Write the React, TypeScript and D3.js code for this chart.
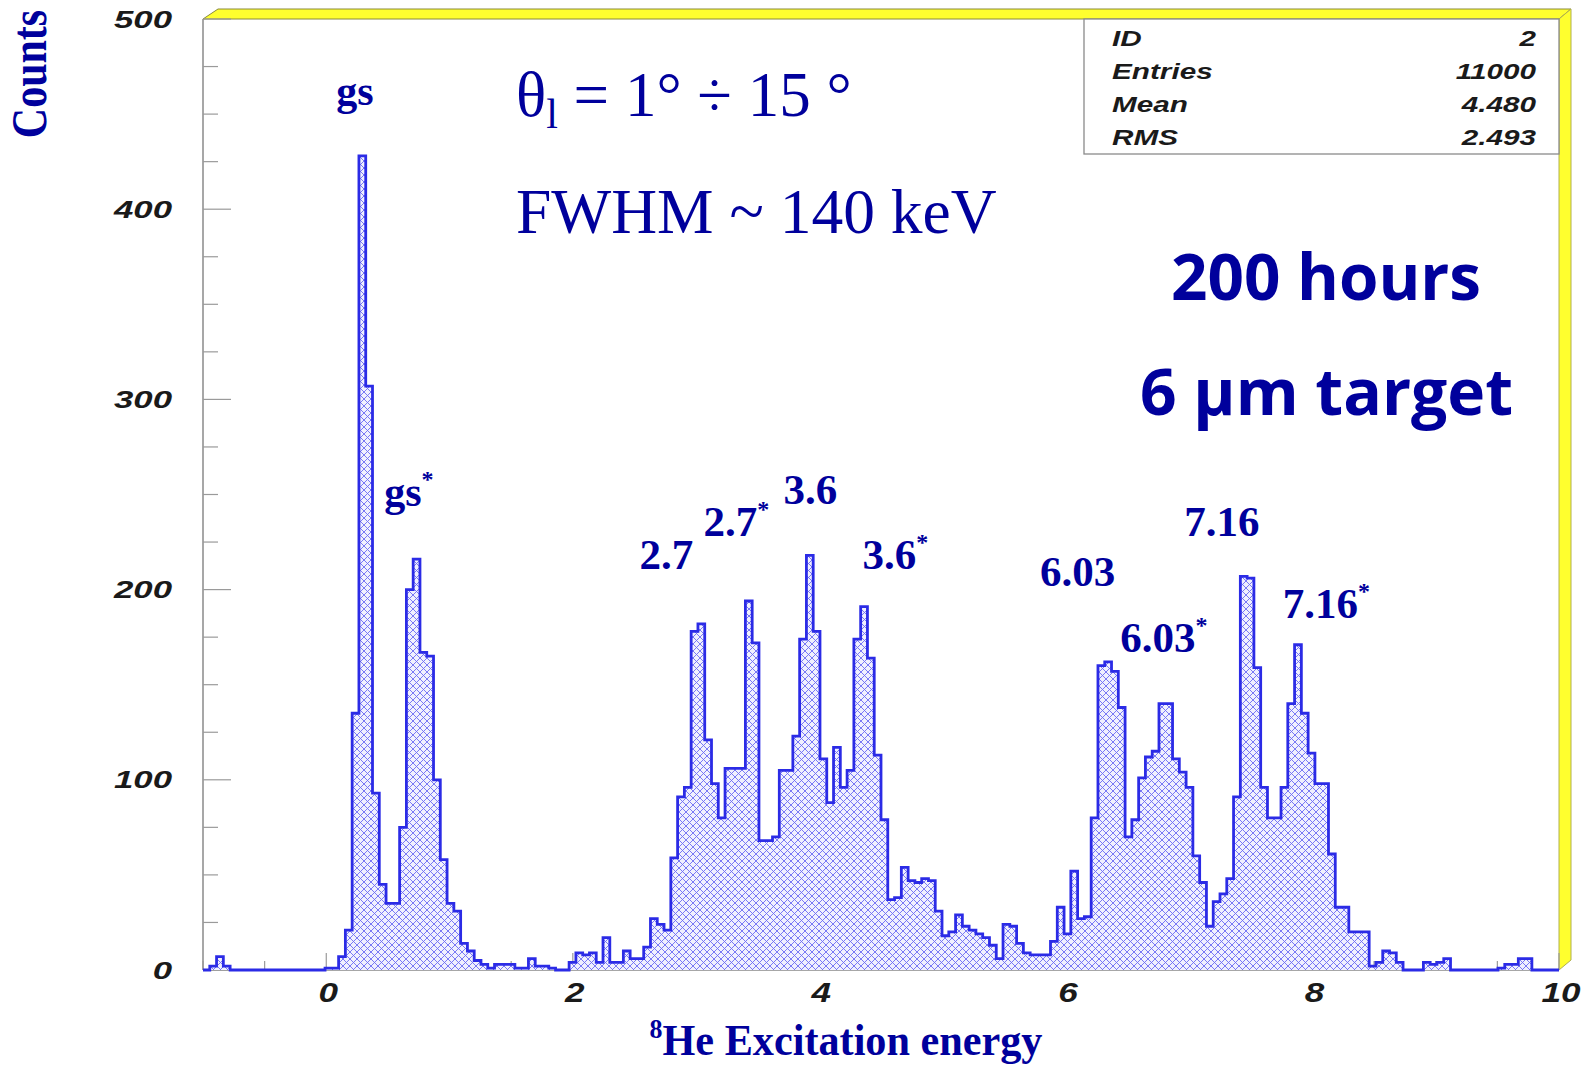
import React from "react";
import * as d3 from "d3";

// histogram: 200 bins from -1 to 10 (bin width 0.055)
const xMin = -1;
const xMax = 10;
const counts = [
  0, 2, 7, 2, 0, 0, 0, 0, 0, 0, 0, 0, 0, 0, 0, 0, 0, 0, 1, 1,
  7, 21, 135, 428, 307, 93, 45, 35, 35, 75, 200, 216, 167, 165, 100, 58, 35, 31, 14, 10,
  5, 3, 1, 3, 3, 3, 1, 1, 6, 2, 2, 1, 0, 0, 4, 9, 8, 9, 4, 17,
  4, 4, 10, 6, 6, 12, 27, 24, 21, 59, 91, 96, 178, 182, 121, 98, 80, 106, 106, 106,
  194, 172, 68, 68, 70, 105, 105, 123, 174, 218, 178, 111, 88, 117, 96, 105, 174, 191, 164, 113,
  79, 37, 38, 54, 47, 46, 48, 47, 31, 18, 20, 29, 23, 21, 19, 17, 13, 6, 24, 23,
  14, 9, 8, 8, 8, 15, 33, 19, 52, 27, 28, 80, 160, 162, 157, 138, 70, 79, 101, 112,
  115, 140, 140, 111, 104, 96, 60, 46, 23, 36, 40, 48, 91, 207, 206, 159, 96, 80, 80, 96,
  140, 171, 135, 114, 98, 98, 61, 33, 33, 20, 20, 20, 2, 4, 10, 9, 4, 0, 0, 0,
  4, 3, 4, 6, 0, 0, 0, 0, 0, 0, 0, 1, 3, 3, 6, 6, 0, 0, 0, 0,
];

const xTickValues = [0, 2, 4, 6, 8, 10];
const yTickValues = [0, 100, 200, 300, 400, 500];

const statNames = ["ID", "Entries", "Mean", "RMS"];
const statValues = ["2", "11000", "4.480", "2.493"];

// peak annotations, anchored in data coordinates (energy, counts)
const peakNames = ["gs", "gs", "2.7", "2.7", "3.6", "3.6", "6.03", "6.03", "7.16", "7.16"];
const peakStar = [false, true, false, true, false, true, false, true, false, true];
const peakE = [0.08, 0.47, 2.54, 3.06, 3.71, 4.35, 5.79, 6.44, 6.96, 7.76];
const peakC = [455, 244, 211, 228, 245, 211, 202, 167, 228, 185];

const navy = "#00009c";
const W = 1585;
const H = 1069;

export default function App() {
  const x = d3.scaleLinear().domain([xMin, xMax]).range([203, 1559]);
  const y = d3.scaleLinear().domain([0, 500]).range([970, 19]);

  const binW = (xMax - xMin) / counts.length;
  const pts: [number, number][] = counts.map((c, i) => [xMin + i * binW, c]);
  pts.push([xMax, counts[counts.length - 1]]);

  const area = d3
    .area<[number, number]>()
    .x((d) => x(d[0]))
    .y0(y(0))
    .y1((d) => y(d[1]))
    .curve(d3.curveStepAfter);
  const line = d3
    .line<[number, number]>()
    .x((d) => x(d[0]))
    .y((d) => y(d[1]))
    .curve(d3.curveStepAfter);

  const yMinor = d3.range(0, 501, 25);
  const xMinor = d3.range(-1, 10.001, 0.5);

  const L = x(xMin);
  const R = x(xMax);
  const T = y(500);
  const B = y(0);
  const dx = 12;
  const dy = 10;

  return (
    <div style={{ position: "absolute", left: 0, top: 0 }}>
      <svg width={W} height={H} style={{ display: "block", background: "#fff" }}>
        <defs>
          <pattern id="hatch" patternUnits="userSpaceOnUse" width="7" height="7">
            <rect width="7" height="7" fill="#f0f0fe" />
            <path d="M0,0 L7,7 M7,0 L0,7" stroke="#6c6cf4" strokeWidth="0.9" />
          </pattern>
        </defs>

        {/* 3D frame */}
        <polygon
          points={`${L},${T} ${L + dx + 3},${T - dy} ${R + dx},${T - dy} ${R},${T}`}
          fill="#ffff2e"
          stroke="#8a8a3a"
          strokeWidth="1"
        />
        <polygon
          points={`${R},${T} ${R + dx},${T - dy} ${R + dx},${B - dy} ${R},${B}`}
          fill="#ffff2e"
          stroke="#b0b050"
          strokeWidth="1"
        />
        <line x1={L} x2={L} y1={T} y2={B} stroke="#8a8a8a" strokeWidth="1.5" />
        <line x1={L} x2={R} y1={B} y2={B} stroke="#8a8a8a" strokeWidth="1.5" />

        {/* y ticks */}
        {yMinor.map((v) => (
          <line
            key={"yt" + v}
            x1={L}
            x2={L + (v % 100 === 0 ? 28 : 15)}
            y1={y(v)}
            y2={y(v)}
            stroke="#9a9a9a"
            strokeWidth="1.2"
          />
        ))}
        {/* x ticks */}
        {xMinor.map((v, i) => (
          <line
            key={"xt" + i}
            x1={x(v)}
            x2={x(v)}
            y1={B}
            y2={B - (Math.abs(v % 2) < 1e-6 ? 17 : 9)}
            stroke="#9a9a9a"
            strokeWidth="1.2"
          />
        ))}

        {/* histogram */}
        <path d={area(pts) || ""} fill="url(#hatch)" />
        <path d={line(pts) || ""} fill="none" stroke="#2b2be6" strokeWidth="2.8" />

        {/* tick labels */}
        {yTickValues.map((v) => (
          <text
            key={"yl" + v}
            transform={`translate(172,${y(v) + 8.5}) scale(1.45,1)`}
            textAnchor="end"
            fontFamily="Liberation Sans, Arial, sans-serif"
            fontWeight="bold"
            fontStyle="italic"
            fontSize="24"
            fill="#1a1a1a"
          >
            {v}
          </text>
        ))}
        {xTickValues.map((v) => (
          <text
            key={"xl" + v}
            transform={`translate(${x(v) + 2},${1002}) scale(1.3,1)`}
            textAnchor="middle"
            fontFamily="Liberation Sans, Arial, sans-serif"
            fontWeight="bold"
            fontStyle="italic"
            fontSize="27"
            fill="#1a1a1a"
          >
            {v}
          </text>
        ))}

        {/* stats box */}
        <rect x={1084} y={T} width={R - 1084} height={135} fill="#fff" stroke="#8a8a8a" strokeWidth="1.3" />
        {statNames.map((s, i) => (
          <g key={"st" + s}>
            <text
              transform={`translate(1112,${46 + i * 33}) scale(1.35,1)`}
              fontFamily="Liberation Sans, Arial, sans-serif"
              fontWeight="bold"
              fontStyle="italic"
              fontSize="22"
              fill="#1a1a1a"
            >
              {s}
            </text>
            <text
              transform={`translate(1536,${46 + i * 33}) scale(1.35,1)`}
              textAnchor="end"
              fontFamily="Liberation Sans, Arial, sans-serif"
              fontWeight="bold"
              fontStyle="italic"
              fontSize="22"
              fill="#1a1a1a"
            >
              {statValues[i]}
            </text>
          </g>
        ))}

        {/* peak labels */}
        {peakNames.map((p, i) => (
          <text
            key={"pk" + i}
            x={x(peakE[i])}
            y={y(peakC[i])}
            fontFamily="Liberation Serif, Times New Roman, serif"
            fontWeight="bold"
            fontSize={p === "gs" ? 42 : 43}
            fill={navy}
          >
            {p}
            {peakStar[i] && (
              <tspan fontSize="24" dy="-19">
                *
              </tspan>
            )}
          </text>
        ))}

        {/* annotations */}
        <text x={516} y={116} fontFamily="Liberation Serif, Times New Roman, serif" fontSize="63" fill={navy}>
          θ<tspan fontSize="42" dy="12">l</tspan>
          <tspan dy="-12"> = 1° ÷ 15 °</tspan>
        </text>
        <text x={516} y={233} fontFamily="Liberation Serif, Times New Roman, serif" fontSize="63.5" fill={navy}>
          FWHM ~ 140 keV
        </text>
        <text
          x={1171}
          y={300}
          fontFamily="Open Sans, sans-serif"
          fontWeight="bold"
          fontSize="64"
          textLength={310}
          lengthAdjust="spacingAndGlyphs"
          fill={navy}
        >
          200 hours
        </text>
        <text
          x={1140}
          y={415}
          fontFamily="Open Sans, sans-serif"
          fontWeight="bold"
          fontSize="64"
          textLength={373}
          lengthAdjust="spacingAndGlyphs"
          fill={navy}
        >
          6 μm target
        </text>

        {/* axis titles */}
        <text
          transform="translate(46,74) rotate(-90) scale(0.84,1)"
          textAnchor="middle"
          fontFamily="Liberation Serif, Times New Roman, serif"
          fontWeight="bold"
          fontSize="50"
          fill={navy}
        >
          Counts
        </text>
        <text
          transform="translate(846,1055) scale(0.96,1)"
          textAnchor="middle"
          fontFamily="Liberation Serif, Times New Roman, serif"
          fontWeight="bold"
          fontSize="44"
          fill={navy}
        >
          <tspan fontSize="27" dy="-17">8</tspan>
          <tspan dy="17">He Excitation energy</tspan>
        </text>
      </svg>
    </div>
  );
}
